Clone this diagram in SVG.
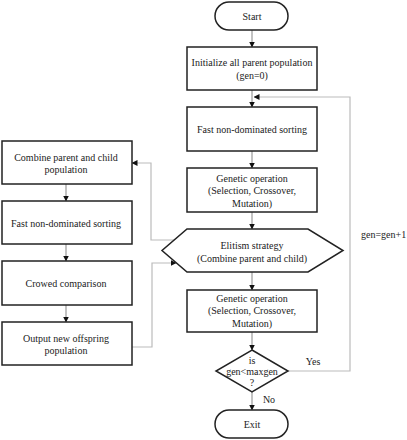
<svg xmlns="http://www.w3.org/2000/svg" width="407" height="440" viewBox="0 0 407 440">
<defs>
<marker id="ah" markerWidth="6" markerHeight="6" refX="5.5" refY="3" orient="auto" markerUnits="userSpaceOnUse">
<path d="M0,0 L6,3 L0,6 Z" fill="#111"/>
</marker>
<style>
.n{fill:#fff;stroke:#222;stroke-width:1.5}
.t{font-family:"Liberation Serif","Times New Roman",serif;font-size:10px;fill:#222;text-anchor:middle}
.c{fill:none;stroke:#999;stroke-width:1.2}
.f{fill:none;stroke:#bbb;stroke-width:1.2}
</style>
</defs>
<rect width="407" height="440" fill="#fff"/>
<g id="connectors">
<line class="c" x1="252" y1="30" x2="252" y2="47" marker-end="url(#ah)"/>
<line class="c" x1="252" y1="90" x2="252" y2="107" marker-end="url(#ah)"/>
<line class="c" x1="252" y1="151" x2="252" y2="168" marker-end="url(#ah)"/>
<line class="c" x1="252" y1="212" x2="252" y2="229" marker-end="url(#ah)"/>
<line class="c" x1="252" y1="272" x2="252" y2="290" marker-end="url(#ah)"/>
<line class="c" x1="252" y1="332" x2="252" y2="350" marker-end="url(#ah)"/>
<line class="c" x1="252" y1="392" x2="252" y2="410" marker-end="url(#ah)"/>
<polyline class="f" points="288,371 350,371 350,97 254,97" marker-end="url(#ah)"/>
<line class="c" x1="66" y1="184" x2="66" y2="201" marker-end="url(#ah)"/>
<line class="c" x1="66" y1="244" x2="66" y2="261" marker-end="url(#ah)"/>
<line class="c" x1="66" y1="305" x2="66" y2="322" marker-end="url(#ah)"/>
<polyline class="f" points="174,240 151,240 151,163 132,163" marker-end="url(#ah)"/>
<polyline class="f" points="132,347 152,347 152,263 176,263" marker-end="url(#ah)"/>
<text class="t" x="361" y="237.5" style="text-anchor:start">gen=gen+1</text>
<text class="t" x="313" y="364.5">Yes</text>
<text class="t" x="269" y="402.5">No</text>
</g>
<g id="start">
<rect class="n" x="215" y="2" width="73" height="28" rx="14"/>
<text class="t" x="252" y="19.5">Start</text>
</g>
<g id="init">
<rect class="n" x="187" y="47" width="130" height="43"/>
<text class="t" x="252" y="65.5">Initialize all parent population</text>
<text class="t" x="252" y="78.5">(gen=0)</text>
</g>
<g id="sort1">
<rect class="n" x="187" y="107" width="130" height="44"/>
<text class="t" x="252" y="133">Fast non-dominated sorting</text>
</g>
<g id="genetic1">
<rect class="n" x="187" y="168" width="130" height="44"/>
<text class="t" x="252" y="181.5">Genetic operation</text>
<text class="t" x="252" y="194">(Selection, Crossover,</text>
<text class="t" x="252" y="206.5">Mutation)</text>
</g>
<g id="elitism">
<polygon class="n" points="187,229 308,229 343,250.5 308,272 187,272 162,250.5"/>
<text class="t" x="252" y="248.5">Elitism strategy</text>
<text class="t" x="252" y="261.5">(Combine parent and child)</text>
</g>
<g id="genetic2">
<rect class="n" x="187" y="290" width="130" height="42"/>
<text class="t" x="252" y="301.5">Genetic operation</text>
<text class="t" x="252" y="314">(Selection, Crossover,</text>
<text class="t" x="252" y="326.5">Mutation)</text>
</g>
<g id="decision">
<polygon class="n" points="252,350 288,371 252,392 216,371"/>
<text class="t" x="252" y="363.5">is</text>
<text class="t" x="252" y="375">gen&lt;maxgen</text>
<text class="t" x="252" y="385.5">?</text>
</g>
<g id="exit">
<rect class="n" x="215" y="410" width="73" height="28" rx="14"/>
<text class="t" x="252" y="427.5">Exit</text>
</g>
<g id="combine">
<rect class="n" x="2" y="141" width="130" height="43"/>
<text class="t" x="66" y="160.5">Combine parent and child</text>
<text class="t" x="66" y="172.5">population</text>
</g>
<g id="sort2">
<rect class="n" x="2" y="201" width="130" height="43"/>
<text class="t" x="66" y="226.5">Fast non-dominated sorting</text>
</g>
<g id="crowed">
<rect class="n" x="2" y="261" width="130" height="44"/>
<text class="t" x="66" y="286.5">Crowed comparison</text>
</g>
<g id="output">
<rect class="n" x="2" y="322" width="130" height="43"/>
<text class="t" x="66" y="341.5">Output new offspring</text>
<text class="t" x="66" y="353.5">population</text>
</g>
</svg>
